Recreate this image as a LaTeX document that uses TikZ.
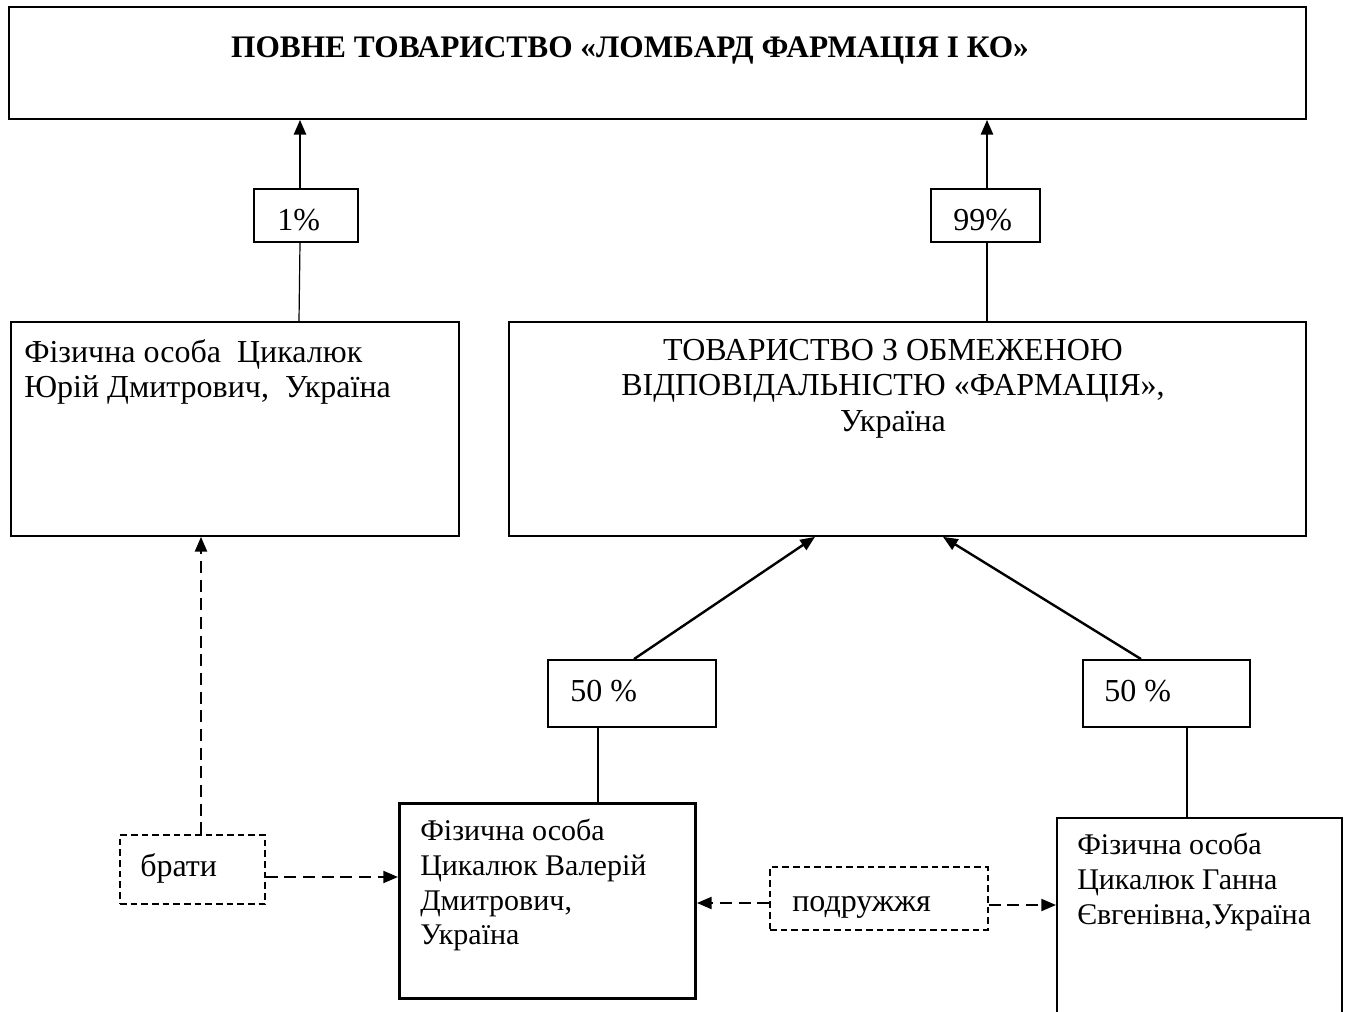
\documentclass[tikz,border=0pt]{standalone}
\usepackage{fontspec}
\setmainfont{Liberation Serif}
\usetikzlibrary{arrows.meta}
\begin{document}
\begin{tikzpicture}[x=0.75pt,y=-0.75pt,
  box/.style={draw,line width=1.4pt,inner sep=0pt,anchor=north west},
  pbox/.style={draw,line width=1.4pt,inner sep=0pt},
  dbox/.style={draw,line width=1.1pt,dash pattern=on 5pt off 3pt,inner sep=0pt},
  txt/.style={inner sep=0pt,anchor=north west,align=left,font=\fontsize{24}{26.25}\selectfont},
  stxt/.style={inner sep=0pt,anchor=north west,align=left,font=\fontsize{22.5}{26}\selectfont},
  ctxt/.style={inner sep=0pt,anchor=north,align=center,font=\fontsize{24}{26.6}\selectfont},
  lbl/.style={inner sep=0pt,anchor=base west,font=\fontsize{24}{26}\selectfont},
  own/.style={line width=1.8pt,-{Triangle[length=11pt,width=9pt]}},
  thin/.style={line width=0.9pt},
  rel/.style={line width=1.5pt,dash pattern=on 9pt off 5pt,-{Triangle[length=11pt,width=9pt]}}
]
\useasboundingbox (0,0) rectangle (1349,1012);
% boxes
\node[box,minimum width=1297*0.75pt,minimum height=112*0.75pt] (top) at (8,6) {};
\node[inner sep=0pt,font=\fontsize{23.5}{26}\selectfont\bfseries] (title) at (630,50) {ПОВНЕ ТОВАРИСТВО «ЛОМБАРД ФАРМАЦІЯ І КО»};
\node[box,minimum width=448*0.75pt,minimum height=214*0.75pt] (yuriy) at (10,321) {};
\node[txt] (yuriyt) at (24,339) {Фізична особа\ \ Цикалюк\\Юрій Дмитрович,\ \ Україна};
\node[box,minimum width=797*0.75pt,minimum height=214*0.75pt] (tov) at (508,321) {};
\node[ctxt] (tovt) at (893,339) {ТОВАРИСТВО З ОБМЕЖЕНОЮ\\ВІДПОВІДАЛЬНІСТЮ «ФАРМАЦІЯ»,\\Україна};
\node[box,line width=2.2pt,minimum width=296*0.75pt,minimum height=195*0.75pt] (val) at (398,802) {};
\node[stxt] (valt) at (420,819) {Фізична особа\\Цикалюк Валерій\\Дмитрович,\\Україна};
\node[box,minimum width=285*0.75pt,minimum height=220*0.75pt] (hanna) at (1056,817) {};
\node[stxt] (hannat) at (1077,833) {Фізична особа\\Цикалюк Ганна\\Євгенівна,Україна};
% percent boxes
\node[pbox,minimum width=104*0.75pt,minimum height=53*0.75pt] (p1) at (306,215.5) {};
\node[lbl] (p1t) at (277,231) {1\%};
\node[pbox,minimum width=109*0.75pt,minimum height=53*0.75pt] (p99) at (985.5,215.5) {};
\node[lbl] (p99t) at (953,231) {99\%};
\node[pbox,minimum width=168*0.75pt,minimum height=67*0.75pt] (p50a) at (632,693.5) {};
\node[lbl] (p50at) at (570,701) {50 \%};
\node[pbox,minimum width=167*0.75pt,minimum height=67*0.75pt] (p50b) at (1166.5,693.5) {};
\node[lbl] (p50bt) at (1104,701) {50 \%};
% relation boxes
\node[dbox,minimum width=145*0.75pt,minimum height=69*0.75pt] (brati) at (192.5,869.5) {};
\node[lbl] (bratit) at (140,876) {брати};
\node[dbox,minimum width=218*0.75pt,minimum height=63*0.75pt] (podr) at (879,898.5) {};
\node[lbl] (podrt) at (792,911) {подружжя};
% ownership connectors
\draw[own] (p1.north -| 300,0) -- (top.south -| 300,0);
\draw[thin] (p1.south -| 300,0) -- (yuriy.north -| 299,0);
\draw[own] (p99.north -| 987,0) -- (top.south -| 987,0);
\draw[thin] (p99.south -| 987,0) -- (tov.north -| 987,0);
\coordinate (ta) at (tov.south -| 815,0);
\coordinate (tb) at (tov.south -| 943,0);
\draw[own] (p50a.north -| 634,0) -- (ta);
\draw[own] (p50b.north -| 1141,0) -- (tb);
\draw[thin] (p50a.south -| 598,0) -- (val.north -| 598,0);
\draw[thin] (p50b.south -| 1187,0) -- (hanna.north -| 1187,0);
% relation connectors
\draw[rel] (brati.north -| 201,0) -- (yuriy.south -| 201,0);
\draw[rel] (brati.east |- 0,877) -- (val.west |- 0,877);
\draw[rel] (podr.west |- 0,903) -- (val.east |- 0,903);
\draw[rel] (podr.east |- 0,905) -- (hanna.west |- 0,905);
\end{tikzpicture}
\end{document}
